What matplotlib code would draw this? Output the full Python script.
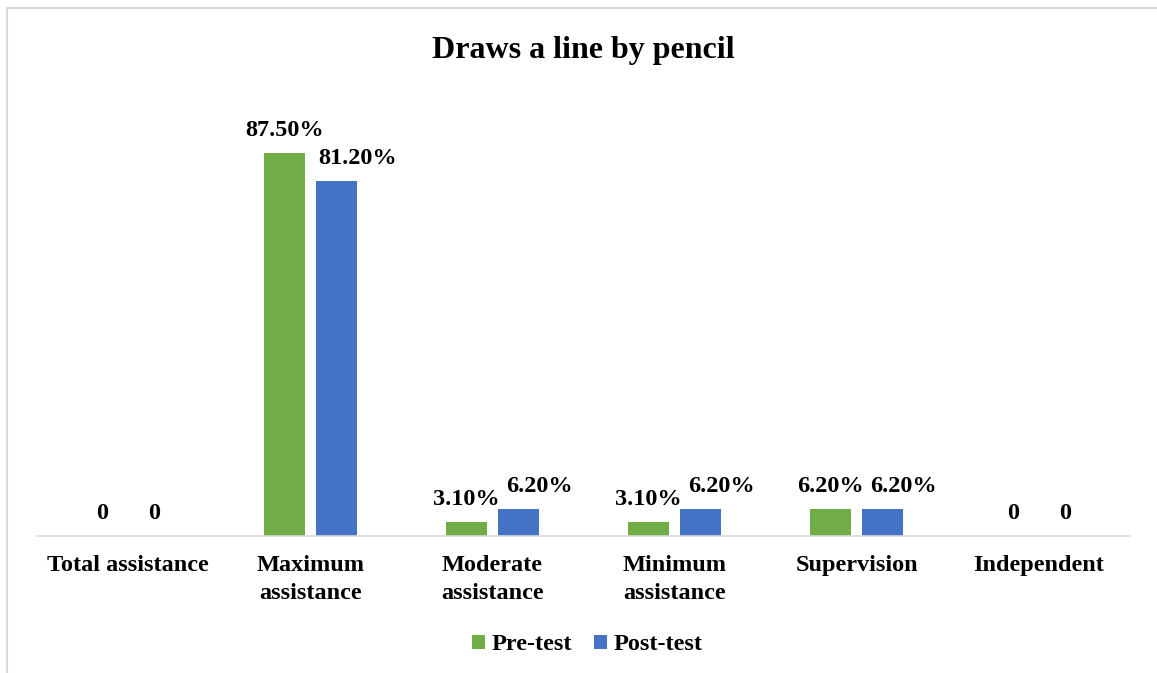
import matplotlib as mpl
mpl.use('Agg')
import matplotlib.pyplot as plt
import numpy as np
from matplotlib.patches import Rectangle, Patch

categories = ['Total assistance', 'Maximum\nassistance', 'Moderate\nassistance',
              'Minimum\nassistance', 'Supervision', 'Independent']
pre_test = [0, 87.5, 3.1, 3.1, 6.2, 0]
post_test = [0, 81.2, 6.2, 6.2, 6.2, 0]
series_names = ['Pre-test', 'Post-test']
colors = ['#70AD47', '#4472C4']

plt.rcParams['font.family'] = ['Liberation Serif', 'DejaVu Serif']
plt.rcParams['font.weight'] = 'bold'

W, H = 1157, 673
fig = plt.figure(figsize=(W / 100, H / 100), dpi=100)
ax = fig.add_axes([37 / W, (H - 536) / H, 1093 / W, 437.7 / H])

x = np.arange(len(categories))
bw = 0.225
off = 0.143


def fmt(v):
    return '0' if v == 0 else '%.2f%%' % v


for vals, sign, col in [(pre_test, -1, colors[0]), (post_test, 1, colors[1])]:
    bars = ax.bar(x + sign * off, vals, bw, color=col)
    for b, v in zip(bars, vals):
        # post-test labels are nudged right so they don't collide with pre-test ones
        dx = 15 if (sign > 0 and v != 0) else 0
        ax.annotate(fmt(v), (b.get_x() + b.get_width() / 2, v),
                    xytext=(dx, 12.2), textcoords='offset points',
                    ha='center', va='baseline', fontsize=17.5, fontweight='bold')

ax.set_xlim(-0.5, len(categories) - 0.5)
ax.set_ylim(0, 100)
ax.set_yticks([])
ax.set_xticks(x)
ax.set_xticklabels(categories, fontsize=17.5, fontweight='bold', linespacing=1.42)
ax.tick_params(axis='x', length=0, pad=14)
for s in ['left', 'right', 'top']:
    ax.spines[s].set_visible(False)
ax.spines['bottom'].set_color('#d9d9d9')
ax.spines['bottom'].set_linewidth(1.2)

fig.text(583 / W, 1 - 58 / H, 'Draws a line by pencil', ha='center', va='baseline',
         fontsize=23, fontweight='bold')

# chart border
fig.patches.append(Rectangle((7 / W, -0.1), 1.2, 1 - 8 / H + 0.1, transform=fig.transFigure,
                             fill=False, edgecolor='#d9d9d9', linewidth=1.5))

handles = [Patch(facecolor=c) for c in colors]
fig.legend(handles, series_names, loc='center', bbox_to_anchor=(587 / W, 1 - 645 / H),
           ncol=2, frameon=False, handlelength=0.55, handleheight=0.55,
           handletextpad=0.25, columnspacing=0.9, prop={'weight': 'bold', 'size': 17.5})

fig.savefig('out.png', dpi=100)
